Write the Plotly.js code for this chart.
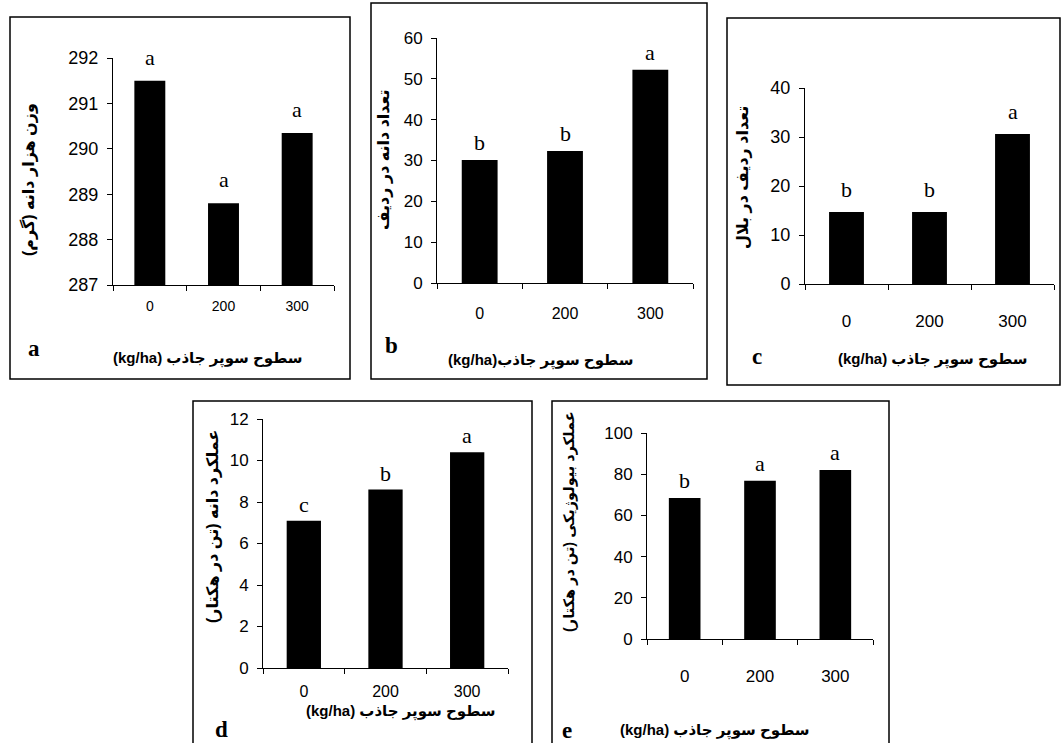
<!DOCTYPE html>
<html>
<head>
<meta charset="utf-8">
<script src="https://cdn.plot.ly/plotly-3.0.1.min.js"></script>
<style>html,body{margin:0;padding:0;background:#fff;}#chart{width:1062px;height:743px;}</style>
</head>
<body>
<div id="chart"></div>
<script>
// ---- data ----
const categories = ['0', '200', '300'];
const seedWeight = [291.5, 288.8, 290.35];      // a
const grainsPerRow = [30.1, 32.3, 52.2];        // b
const rowsPerEar = [14.7, 14.7, 30.6];          // c
const grainYield = [7.1, 8.6, 10.4];            // d
const bioYield = [68.4, 76.8, 82.0];            // e
const lettersA = ['a', 'a', 'a'];
const lettersB = ['b', 'b', 'a'];
const lettersC = ['b', 'b', 'a'];
const lettersD = ['c', 'b', 'a'];
const lettersE = ['b', 'a', 'a'];
const yTitleA = 'وزن هزار دانه (گرم)\u200F';
const yTitleB = 'تعداد دانه در ردیف';
const yTitleC = 'تعداد ردیف در بلال';
const yTitleD = 'عملکرد دانه (تن در هکتار)\u200F';
const yTitleE = 'عملکرد بیولوژیکی (تن در هکتار)\u200F';
const xTitle = '(kg/ha) سطوح سوپر جاذب';
const xTitleB = '(kg/ha)سطوح سوپر جاذب';

// ---- layout helpers ----
const W = 1062, H = 743;
const px = v => v / W;
const py = v => 1 - v / H;
const SANS = 'Liberation Sans, Arial, DejaVu Sans, sans-serif';
const SERIF = 'Liberation Serif, Times New Roman, serif';
const TITLEF = 'Liberation Sans, DejaVu Sans, sans-serif';

const panels = [
  {id: '', vals: seedWeight, letters: lettersA, range: [287, 292], dtick: 1,
   x: [113, 334], y: [58, 285], yfont: 18, xfont: 14, xstand: 8, lshift: 9, ytsize: 16,
   box: [10, 17, 350, 379], ytitle: yTitleA, yt: [28, 180], xt: xTitle, xtp: [208, 358], lab: 'a', labp: [34, 348]},
  {id: '2', vals: grainsPerRow, letters: lettersB, range: [0, 60], dtick: 10,
   x: [437, 693], y: [38, 283], yfont: 17, xfont: 16, xstand: 16, lshift: 3, ytsize: 16,
   box: [371, 3, 707, 379], ytitle: yTitleB, yt: [384, 160], xt: xTitleB, xtp: [540, 360], lab: 'b', labp: [391, 345]},
  {id: '3', vals: rowsPerEar, letters: lettersC, range: [0, 40], dtick: 10,
   x: [805, 1054], y: [88, 284], yfont: 18, xfont: 17, xstand: 22, lshift: 8, ytsize: 16,
   box: [727, 18, 1060, 385], ytitle: yTitleC, yt: [743, 178], xt: xTitle, xtp: [933, 359], lab: 'c', labp: [757, 356]},
  {id: '4', vals: grainYield, letters: lettersD, range: [0, 12], dtick: 2,
   x: [263, 508], y: [419, 668], yfont: 17, xfont: 16, xstand: 9, lshift: 2, ytsize: 16,
   box: [193, 401, 532, 760], ytitle: yTitleD, yt: [213, 527], xt: xTitle, xtp: [401, 711], lab: 'd', labp: [221, 729]},
  {id: '5', vals: bioYield, letters: lettersE, range: [0, 100], dtick: 20,
   x: [647, 873], y: [433, 639], yfont: 17, xfont: 17, xstand: 22, lshift: 3, ytsize: 14.5,
   box: [552, 401, 889, 760], ytitle: yTitleE, yt: [569, 522], xt: xTitle, xtp: [715, 730], lab: 'e', labp: [567, 730]}
];

const data = [];
const layout = {
  width: W, height: H,
  margin: {l: 0, r: 0, t: 0, b: 0},
  paper_bgcolor: '#ffffff', plot_bgcolor: 'rgba(0,0,0,0)',
  showlegend: false, bargap: 0.58,
  annotations: [], shapes: []
};

panels.forEach(p => {
  const xa = 'xaxis' + p.id, ya = 'yaxis' + p.id;
  const xr = 'x' + p.id, yr = 'y' + p.id;
  data.push({
    type: 'bar', x: categories, y: p.vals, xaxis: xr, yaxis: yr,
    marker: {color: '#000000', line: {width: 0}},
    hoverinfo: 'none'
  });
  layout[xa] = {
    domain: [px(p.x[0]), px(p.x[1])], anchor: yr, type: 'category',
    categoryarray: categories, categoryorder: 'array',
    range: [-0.5, 2.5], fixedrange: true,
    showline: true, linecolor: '#000', linewidth: 1, mirror: false,
    ticks: 'outside', tickson: 'boundaries', ticklen: 5, tickcolor: '#000', tickwidth: 1,
    showgrid: false, zeroline: false,
    tickfont: {family: SANS, size: p.xfont, color: '#000'},
    ticklabelstandoff: p.xstand
  };
  layout[ya] = {
    domain: [py(p.y[1]), py(p.y[0])], anchor: xr,
    range: p.range, dtick: p.dtick, tick0: 0, fixedrange: true,
    showline: true, linecolor: '#000', linewidth: 1,
    ticks: 'outside', ticklen: 5, tickcolor: '#000', tickwidth: 1,
    showgrid: false, zeroline: false,
    tickfont: {family: SANS, size: p.yfont, color: '#000'},
    ticklabelstandoff: 5
  };
  // significance letters (x given as category index)
  p.letters.forEach((L, i) => {
    layout.annotations.push({
      xref: xr, yref: yr, x: i, y: p.vals[i], text: L,
      showarrow: false, yanchor: 'bottom', yshift: p.lshift,
      font: {family: SERIF, size: 22, color: '#000'}
    });
  });
  // y title
  layout.annotations.push({
    xref: 'paper', yref: 'paper', x: px(p.yt[0]), y: py(p.yt[1]),
    text: '<b>' + p.ytitle + '</b>', textangle: -90, showarrow: false,
    xanchor: 'center', yanchor: 'middle',
    font: {family: TITLEF, size: p.ytsize, color: '#000'}
  });
  // x title
  layout.annotations.push({
    xref: 'paper', yref: 'paper', x: px(p.xtp[0]), y: py(p.xtp[1]),
    text: '<b>' + p.xt + '</b>', showarrow: false,
    xanchor: 'center', yanchor: 'middle',
    font: {family: TITLEF, size: 15, color: '#000'}
  });
  // panel label
  layout.annotations.push({
    xref: 'paper', yref: 'paper', x: px(p.labp[0]), y: py(p.labp[1]),
    text: '<b>' + p.lab + '</b>', showarrow: false,
    xanchor: 'center', yanchor: 'middle',
    font: {family: SERIF, size: 23, color: '#000'}
  });
  // frame
  layout.shapes.push({
    type: 'rect', xref: 'paper', yref: 'paper',
    x0: px(p.box[0]), x1: px(p.box[2]), y0: py(p.box[3]), y1: py(p.box[1]),
    line: {color: '#000', width: 1.5}, fillcolor: 'rgba(0,0,0,0)', layer: 'below'
  });
});

Plotly.newPlot('chart', data, layout, {displayModeBar: false, staticPlot: true});
</script>
</body>
</html>
